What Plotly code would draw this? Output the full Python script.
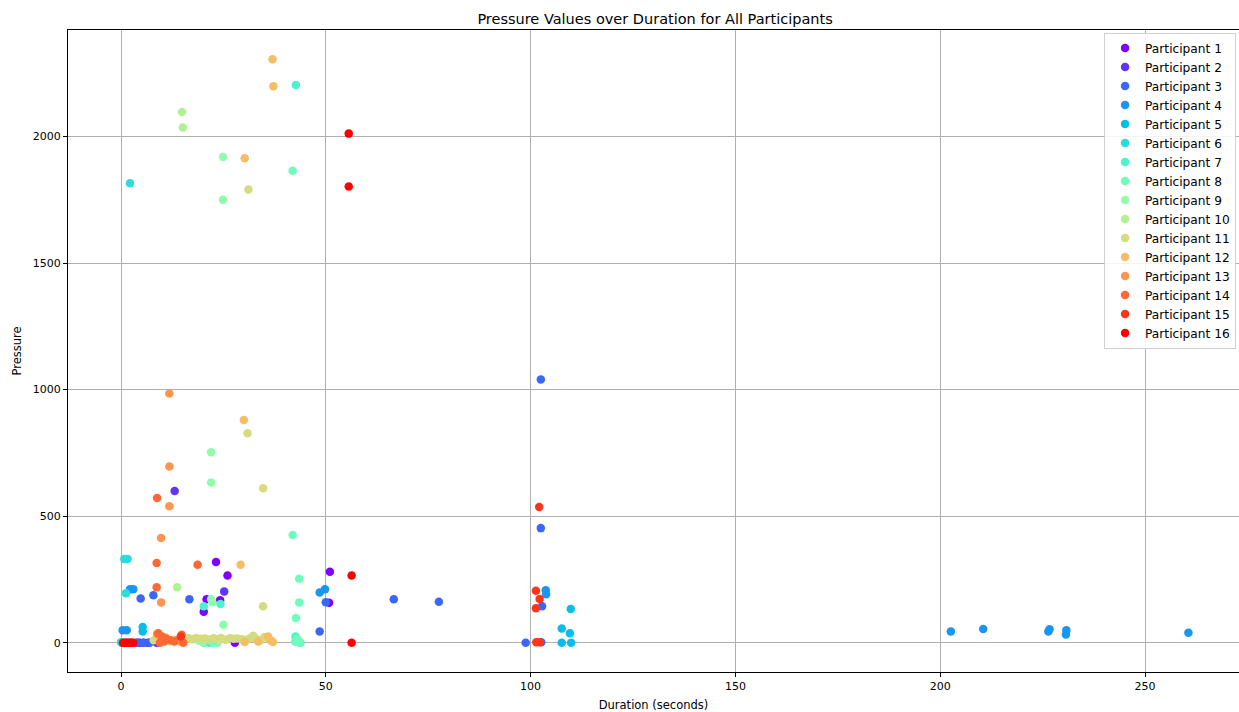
import numpy as np
import plotly.graph_objects as go

participants = [f"Participant {i}" for i in range(1, 17)]

p1_x = [23.2, 26.0, 51.0, 50.8, 20.2, 20.9, 24.2, 6.6, 27.8, 4.5]
p1_y = [319, 266, 281, 158, 123, 172, 168, 0, 0, 0]
p2_x = [13.1, 25.2, 5.5, 3.8, 8.7]
p2_y = [600, 203, 0, 0, 0]
p3_x = [102.5, 102.5, 102.8, 98.8, 102.6, 77.6, 66.6, 50.0, 48.5, 16.7, 4.8, 7.9, 1.0, 2.5, 4.0, 5.5, 7.0, 0.2]
p3_y = [1040, 453, 144, 0, 2, 162, 172, 160, 45, 172, 175, 188, 0, 0, 0, 0, 0, 0]
p4_x = [202.6, 210.5, 226.4, 226.7, 230.7, 230.8, 260.6, 103.7, 103.8, 2.2, 3.0, 48.5, 49.8, 0.4, 1.4]
p4_y = [45, 55, 45, 54, 33, 50, 40, 208, 192, 212, 212, 199, 212, 50, 50]
p5_x = [109.8, 107.6, 109.6, 107.6, 109.9, 5.3, 5.3]
p5_y = [134, 57, 38, 0, 0, 62, 45]
p6_x = [2.2, 0.8, 1.6, 1.2, 0.0]
p6_y = [1815, 331, 331, 196, 2]
p7_x = [42.7, 20.2, 24.3, 20.3, 21.5, 42.6, 43.2, 43.8]
p7_y = [2203, 144, 153, 0, 0, 25, 10, 0]
p8_x = [41.9, 41.9, 43.5, 43.5, 42.7, 42.5, 43.0, 43.6, 22.5, 23.5]
p8_y = [1864, 426, 253, 159, 98, 5, 15, 0, 0, 0]
p9_x = [24.9, 24.9, 22.0, 22.0, 22.0, 22.3, 25.0, 20.0, 19.0]
p9_y = [1919, 1750, 753, 633, 172, 160, 71, 2, 8]
p10_x = [14.9, 15.1, 13.7, 10.5, 12.0, 17.5, 24.0]
p10_y = [2096, 2035, 219, 10, 5, 15, 10]
p11_x = [31.1, 30.9, 34.7, 34.7, 15.5, 16.5, 17.5, 18.4, 19.6, 20.5, 21.4, 22.6, 23.5, 24.4,
         25.5, 26.6, 27.5, 28.4, 29.5, 30.6, 31.5, 32.3, 33.0, 34.0, 35.0, 36.0, 8.0, 13.0]
p11_y = [1790, 828, 610, 144, 15, 18, 14, 19, 16, 17, 13, 18, 15, 19, 12, 18, 16, 17, 14, 12,
         18, 28, 15, 10, 22, 15, 10, 12]
p12_x = [37.0, 37.2, 30.2, 30.0, 29.2, 30.2, 35.9, 37.1, 33.5, 36.5]
p12_y = [2305, 2198, 1914, 880, 308, 3, 25, 3, 5, 10]
p13_x = [11.8, 11.8, 11.8, 9.8, 9.8, 8.8, 9.6, 11.0, 13.5, 14.5]
p13_y = [985, 696, 539, 414, 159, 35, 28, 20, 10, 5]
p14_x = [8.8, 8.7, 18.7, 8.7, 9.1, 10.0, 11.0, 12.0, 13.0, 14.8, 15.2, 9.5, 10.5]
p14_y = [572, 315, 308, 219, 38, 25, 15, 10, 5, 32, 0, 0, 5]
p15_x = [102.1, 101.3, 102.2, 101.3, 101.4, 102.2, 14.6, 1.8]
p15_y = [536, 206, 173, 137, 2, 2, 25, 0]
p16_x = [55.6, 55.6, 56.3, 56.3, 0.5, 1.0, 1.5, 2.0, 2.5, 3.0]
p16_y = [2011, 1802, 266, 0, 0, 0, 0, 0, 0, 0]

xs = [p1_x, p2_x, p3_x, p4_x, p5_x, p6_x, p7_x, p8_x, p9_x, p10_x, p11_x, p12_x, p13_x, p14_x, p15_x, p16_x]
ys = [p1_y, p2_y, p3_y, p4_y, p5_y, p6_y, p7_y, p8_y, p9_y, p10_y, p11_y, p12_y, p13_y, p14_y, p15_y, p16_y]

x_range = [-12.94, 272.95]


def rainbow(t):
    r = np.clip(abs(2 * t - 0.5), 0, 1)
    g = np.clip(np.sin(np.pi * t), 0, 1)
    b = np.clip(np.cos(np.pi * t / 2), 0, 1)
    return f"rgb({int(r*255)},{int(g*255)},{int(b*255)})"


colors = [rainbow(t) for t in np.linspace(0, 1, len(participants))]

fig = go.Figure()
for name, x, y, c in zip(participants, xs, ys, colors):
    fig.add_trace(go.Scatter(x=x, y=y, mode="markers", name=name,
                             marker=dict(color=c, size=8.5, line=dict(width=0))))

ally = np.concatenate([np.array(v, float) for v in ys])
yr = ally.max() - ally.min()

font = "DejaVu Sans"
axis_common = dict(showline=True, linecolor="black", linewidth=1, mirror=True,
                   ticks="outside", ticklen=4, tickcolor="black", showgrid=True,
                   gridcolor="#b0b0b0", gridwidth=0.8, zeroline=False,
                   tickfont=dict(family=font, size=11, color="black"))

fig.update_layout(
    width=1239, height=712,
    margin=dict(l=68, r=0, t=30, b=40),
    paper_bgcolor="white", plot_bgcolor="white",
    title=dict(text="Pressure Values over Duration for All Participants",
               x=0.5287, xanchor="center", y=0.974, yanchor="middle",
               font=dict(family=font, size=14.5, color="black")),
    xaxis=dict(range=x_range,
               tickvals=[0, 50, 100, 150, 200, 250],
               title=dict(text="Duration (seconds)", standoff=8,
                          font=dict(family=font, size=11.5, color="black")),
               **axis_common),
    yaxis=dict(range=[ally.min() - 0.05 * yr, ally.max() + 0.05 * yr],
               tickvals=[0, 500, 1000, 1500, 2000],
               title=dict(text="Pressure", standoff=8,
                          font=dict(family=font, size=11.5, color="black")),
               **axis_common),
    legend=dict(x=0.9975, y=0.996, xanchor="right", yanchor="top",
                bgcolor="rgba(255,255,255,0.85)", bordercolor="#d0d0d0", borderwidth=1,
                font=dict(family=font, size=12.2, color="black")),
    showlegend=True,
)

fig.write_html("out.html")
